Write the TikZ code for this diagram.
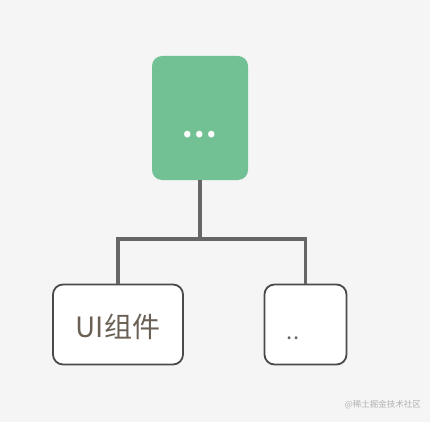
\documentclass[tikz,border=0pt]{standalone}
\usepackage{fontspec}
\setmainfont{Noto Sans CJK SC}
\newfontfamily\cjk{Noto Sans CJK SC}
\usepackage{tikz}
\usetikzlibrary{positioning, calc}
\definecolor{bgcol}{HTML}{F5F5F5}
\definecolor{leafgreen}{HTML}{72C194}
\definecolor{linkgray}{HTML}{666666}
\definecolor{edgegray}{HTML}{4A4A4A}
\definecolor{textbrown}{HTML}{6B6055}
\tikzset{
    root/.style = {fill=leafgreen, rounded corners=10pt, minimum width=96pt, minimum height=124pt, inner sep=0pt},
    leaf/.style = {draw=edgegray, line width=1.8pt, fill=white, rounded corners=10pt, minimum height=80pt, inner sep=0pt},
    link/.style = {draw=linkgray, line width=3.5pt},
    leaftext/.style = {font=\cjk\fontsize{28}{32}\selectfont, text=textbrown, inner sep=0pt}
}
\begin{document}
\begin{tikzpicture}[x=1pt,y=-1pt]
    \fill[bgcol] (0,0) rectangle (430,422);
    \useasboundingbox (0,0) rectangle (430,422);
    % Nodos
    \node [root] (top) at (200,118) {};
    \node [anchor=base, text=white, inner sep=0pt, font=\cjk\bfseries\fontsize{30}{30}\selectfont] (dots) at (200,138) {.\kern1.5pt.\kern1.5pt.};
    \coordinate (fork) at (200,239);
    \node [leaf, minimum width=130pt] (ui) at (118,324.5) {};
    \node [leaftext] (uitext) at (118,327) {UI组件};
    \node [leaf, minimum width=82pt] (other) at (305.5,324.5) {};
    \node [anchor=base, text=linkgray, inner sep=0pt, font=\cjk\fontsize{22}{26}\selectfont] (othertext) at (293,339) {..};
    \node [anchor=east, text=black!30, inner sep=0pt, font=\cjk\fontsize{8.5}{10}\selectfont] (sign) at (421,405) {@稀土掘金技术社区};

    % Conexiones
    \draw [link] (top.south) -- (fork);
    \draw [link] (ui.north) |- (fork) -| (other.north);
\end{tikzpicture}
\end{document}
